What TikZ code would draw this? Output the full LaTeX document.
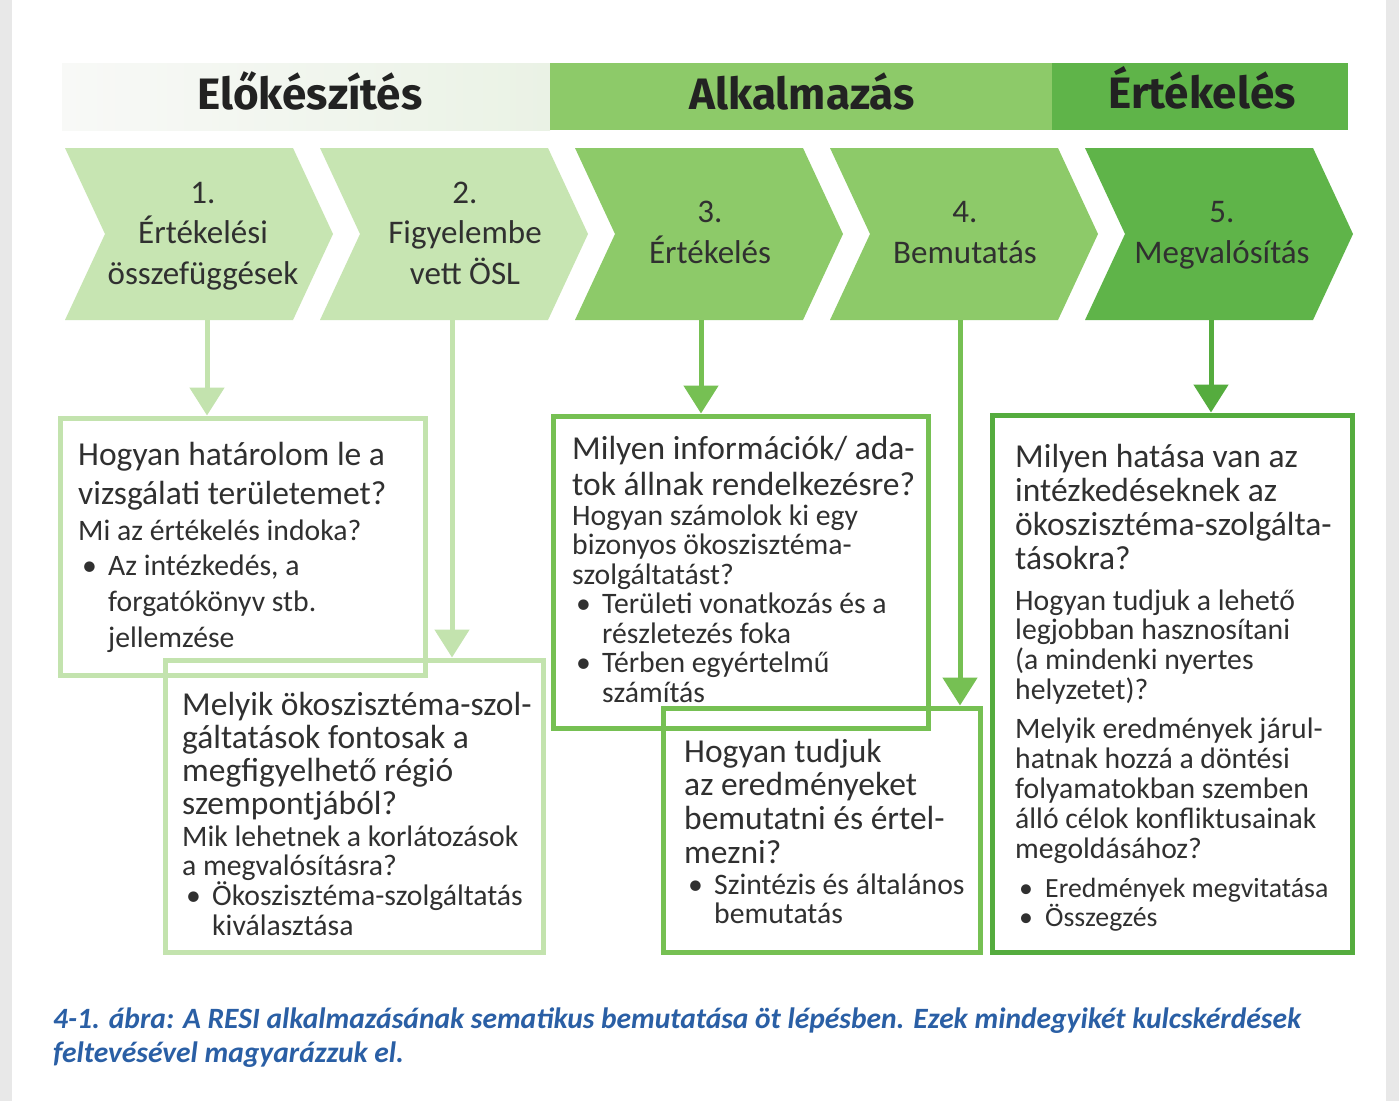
\documentclass[tikz,border=0pt]{standalone}
\usepackage{fontspec}
\setmainfont{Carlito}
\newfontfamily\hdrfont{Fira Sans}
\usetikzlibrary{arrows.meta,calc}
\definecolor{txt}{HTML}{303030}
\definecolor{hdrtxt}{HTML}{222222}
\definecolor{lightg}{HTML}{C7E5B2}
\definecolor{midg}{HTML}{8DCA69}
\definecolor{darkg}{HTML}{5FB449}
\definecolor{lborder}{HTML}{C3E3AE}
\definecolor{mborder}{HTML}{76C053}
\definecolor{dborder}{HTML}{55AC3E}
\definecolor{capblue}{HTML}{2A5FA5}
\definecolor{hdrL}{HTML}{F8F9F7}
\definecolor{hdrR}{HTML}{EAF2E5}
\definecolor{scan}{HTML}{E8E8E8}
\newcommand\vl[1]{\vtop{\halign{##\hfil\cr#1\crcr}}}
\newcommand\vc[1]{\vtop{\halign{\hfil##\hfil\cr#1\crcr}}}
\newcommand\bul{\makebox[30pt][l]{\hspace{4pt}\textbullet}}
\newcommand\ind{\hspace*{30pt}}
\begin{document}
\begin{tikzpicture}[x=1pt,y={(0pt,-1pt)},
  tx/.style={anchor=base west,inner sep=0pt,text=txt},
  big/.style={tx,font=\fontsize{33.5}{#1}\selectfont},
  small/.style={tx,font=\fontsize{29.7}{#1}\selectfont},
  chevtxt/.style={anchor=base,inner sep=0pt,text=txt,font=\fontsize{33}{#1}\selectfont},
  box/.style={draw=#1,line width=5pt,inner sep=0pt},
  arr/.style={draw=#1,line width=5pt,-{Triangle[width=34pt,length=28pt,fill=#1]}},
  hdr/.style={font=\hdrfont\bfseries\fontsize{44}{46}\selectfont,text=hdrtxt,inner sep=0pt,anchor=base}
]
\useasboundingbox (0,0) rectangle (1399,1101);
\fill[white] (0,0) rectangle (1399,1101);
\fill[scan] (0,0) rectangle (12,1101);
\fill[scan] (1386,0) rectangle (1399,1101);

% header bar
\fill[left color=hdrL,right color=hdrR] (62,63) rectangle (550,130);
\fill[midg] (550,63) rectangle (1052,130);
\fill[darkg] (1052,63) rectangle (1348,130);
\node[hdr] (h1) at (310,109) {Előkészítés};
\node[hdr] (h2) at (802,109) {Alkalmazás};
\node[hdr] (h3) at (1202,108) {Értékelés};

% chevrons
\foreach \x/\c in {65/lightg,320/lightg,575/midg,830/midg,1085/darkg}{
  \fill[\c] (\x,148) -- ++(228,0) -- ++(40,86) -- ++(-40,86) -- ++(-228,0) -- ++(40,-86) -- cycle;
}
\node[chevtxt=40.5] (c1) at (203,203) {\vc{1.\cr Értékelési\cr összefüggések}};
\node[chevtxt=40.5] (c2) at (465,203) {\vc{2.\cr Figyelembe\cr vett ÖSL}};
\node[chevtxt=41] (c3) at (710,222) {\vc{3.\cr Értékelés}};
\node[chevtxt=41] (c4) at (965,222) {\vc{4.\cr Bemutatás}};
\node[chevtxt=41] (c5) at (1222,222) {\vc{5.\cr Megvalósítás}};

% boxes
\node[box=lborder,minimum width=365pt,minimum height=257pt] (b1) at (242.5,546.5) {};
\node[box=lborder,minimum width=378pt,minimum height=292pt] (b2) at (354,806) {};
\node[box=mborder,minimum width=375pt,minimum height=312pt] (b3) at (740.5,572) {};
\node[box=mborder,minimum width=317pt,minimum height=244pt] (b4) at (821.5,830) {};
\node[box=dborder,minimum width=360pt,minimum height=537pt] (b5) at (1172,683.5) {};

% connectors
\coordinate (a1) at (207,320);
\coordinate (a2) at (452,320);
\coordinate (a3) at (701,320);
\coordinate (a4) at (960,320);
\coordinate (a5) at (1211,320);
\draw[arr=lborder] (a1) -- (a1 |- b1.north);
\draw[arr=lborder] (a2) -- (a2 |- b2.north);
\draw[arr=mborder] (a3) -- (a3 |- b3.north);
\draw[arr=mborder] (a4) -- (a4 |- b4.north);
\draw[arr=dborder] (a5) -- (a5 |- b5.north);

% box 1 text
\node[big=39] (t1a) at (78,465) {\vl{Hogyan határolom le a\cr vizsgálati területemet?}};
\node[small=35.7] (t1b) at (78,540) {\vl{Mi az értékelés indoka?\cr \bul Az intézkedés, a\cr \ind forgatókönyv stb.\cr \ind jellemzése}};

% box 2 text
\node[big=33.3] (t2a) at (182,715) {\vl{Melyik ökoszisztéma-szol-\cr gáltatások fontosak a\cr megfigyelhető régió\cr szempontjából?}};
\node[small=29.7] (t2b) at (182,846) {\vl{Mik lehetnek a korlátozások\cr a megvalósításra?\cr \bul Ökoszisztéma-szolgáltatás\cr \ind kiválasztása}};

% box 3 text
\node[big=36] (t3a) at (572,459) {\vl{Milyen információk/ ada-\cr tok állnak rendelkezésre?}};
\node[small=29.5] (t3b) at (572,525) {\vl{Hogyan számolok ki egy\cr bizonyos ökoszisztéma-\cr szolgáltatást?\cr \bul Területi vonatkozás és a\cr \ind részletezés foka\cr \bul Térben egyértelmű\cr \ind számítás}};

% box 4 text
\node[big=33.7] (t4a) at (684,762) {\vl{Hogyan tudjuk\cr az eredményeket\cr bemutatni és értel-\cr mezni?}};
\node[small=29] (t4b) at (684,894) {\vl{\bul Szintézis és általános\cr \ind bemutatás}};

% box 5 text
\node[big=34] (t5a) at (1015,467) {\vl{Milyen hatása van az\cr intézkedéseknek az\cr ökoszisztéma-szolgálta-\cr tásokra?}};
\node[small=29.7] (t5b) at (1015,610) {\vl{Hogyan tudjuk a lehető\cr legjobban hasznosítani\cr (a mindenki nyertes\cr helyzetet)?}};
\node[small=30] (t5c) at (1015,738) {\vl{Melyik eredmények járul-\cr hatnak hozzá a döntési\cr folyamatokban szemben\cr álló célok konfliktusainak\cr megoldásához?}};
\node[tx,font=\fontsize{27.8}{29}\selectfont] (t5d) at (1015,897) {\vl{\bul Eredmények megvitatása\cr \bul Összegzés}};

% caption
\node[anchor=base west,inner sep=0pt,text=capblue,font=\bfseries\itshape\fontsize{29.5}{34}\selectfont] (cap) at (53,1028)
  {\vl{4-1. ábra: A RESI alkalmazásának sematikus bemutatása öt lépésben. Ezek mindegyikét kulcskérdések\cr feltevésével magyarázzuk el.}};
\end{tikzpicture}
\end{document}
